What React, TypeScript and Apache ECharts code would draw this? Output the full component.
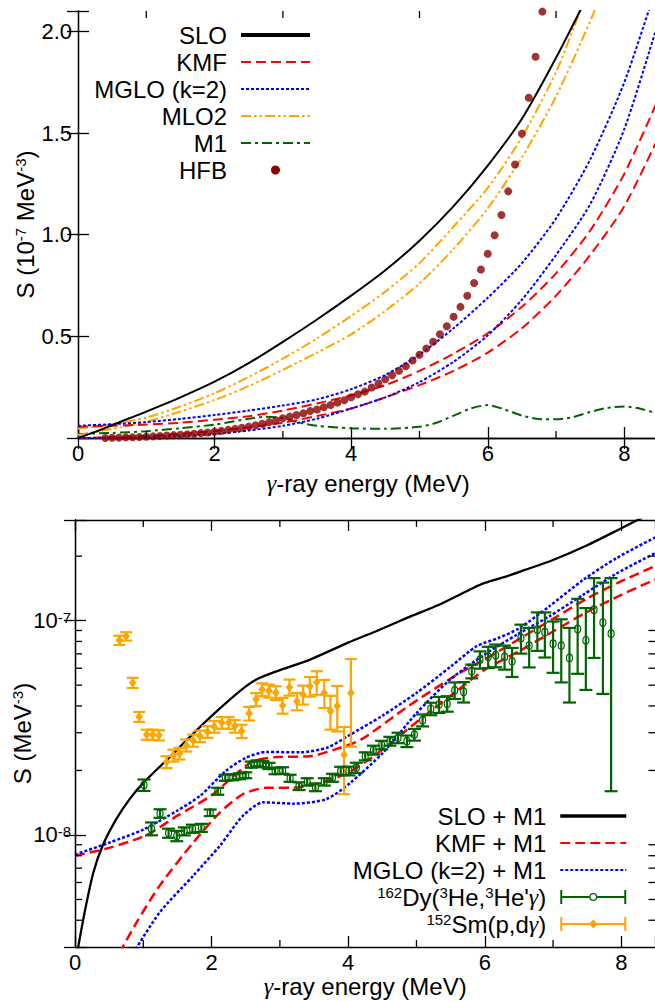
import React, { useEffect, useRef } from 'react';
import * as echarts from 'echarts';

// ---------- Top panel (S in 1e-7 MeV^-3) ----------
const slo = [[0,0],[0.25,0.03],[0.5,0.063],[0.75,0.097],[1,0.13],[1.5,0.2],[2,0.277],[2.5,0.368],[3,0.473],[3.5,0.583],[4,0.7],[4.5,0.825],[5,0.97],[5.5,1.14],[6,1.34],[6.5,1.57],[7,1.87],[7.5,2.2]];
const kmfA = [[0,0.055],[0.5,0.06],[1,0.066],[1.5,0.075],[2,0.09],[2.5,0.107],[3,0.135],[3.5,0.17],[4,0.21],[4.5,0.26],[5,0.33],[5.5,0.415],[6,0.515],[6.5,0.645],[7,0.81],[7.5,1.02],[8,1.3],[8.5,1.67]];
const kmfB = [[0,0.0],[0.5,0.004],[1,0.01],[1.5,0.02],[2,0.034],[2.5,0.052],[3,0.075],[3.5,0.108],[4,0.145],[4.5,0.2],[5,0.26],[5.5,0.33],[6,0.42],[6.5,0.54],[7,0.7],[7.5,0.9],[8,1.14],[8.5,1.48]];
const mgloA = [[0,0.06],[0.5,0.068],[1,0.078],[1.5,0.094],[2,0.113],[2.5,0.135],[3,0.16],[3.5,0.19],[4,0.24],[4.5,0.31],[5,0.41],[5.5,0.54],[6,0.69],[6.5,0.86],[7,1.08],[7.5,1.37],[8,1.75],[8.5,2.25]];
const mgloB = [[0,0.0],[0.5,0.001],[1,0.004],[1.5,0.01],[2,0.02],[2.5,0.037],[3,0.06],[3.5,0.095],[4,0.145],[4.5,0.2],[5,0.275],[5.5,0.375],[6,0.505],[6.5,0.68],[7,0.9],[7.5,1.15],[8,1.52],[8.5,2.05]];
const mlo2A = [[0,0.045],[0.5,0.068],[1,0.1],[1.5,0.155],[2,0.22],[2.5,0.3],[3,0.39],[3.5,0.49],[4,0.6],[4.5,0.72],[5,0.86],[5.5,1.04],[6,1.23],[6.5,1.48],[7,1.8],[7.35,2.1],[7.5,2.25]];
const mlo2B = [[0,0.015],[0.5,0.045],[1,0.08],[1.5,0.13],[2,0.187],[2.5,0.255],[3,0.335],[3.5,0.42],[4,0.51],[4.5,0.625],[5,0.76],[5.5,0.93],[6,1.13],[6.5,1.38],[7,1.68],[7.5,2.05],[7.7,2.22]];
const m1 = [[0,0.02],[0.5,0.025],[1,0.033],[1.5,0.048],[2,0.066],[2.5,0.095],[2.75,0.104],[3,0.098],[3.25,0.075],[3.5,0.06],[4,0.048],[4.5,0.045],[5,0.055],[5.25,0.075],[5.5,0.11],[5.75,0.145],[6,0.162],[6.25,0.14],[6.5,0.11],[6.75,0.093],[7,0.092],[7.25,0.103],[7.5,0.128],[7.75,0.148],[8,0.155],[8.25,0.143],[8.5,0.118]];
const hfbE = [0.4,0.5,0.6,0.7,0.8,0.9,1.0,1.1,1.2,1.3,1.4,1.5,1.6,1.7,1.8,1.9,2.0,2.1,2.2,2.3,2.4,2.5,2.6,2.7,2.8,2.9,3.0,3.1,3.2,3.3,3.4,3.5,3.6,3.7,3.8,3.9,4.0,4.1,4.2,4.3,4.4,4.5,4.6,4.7,4.8,4.9,5.0,5.1,5.2,5.3,5.4,5.5,5.6,5.7,5.8,5.9,6.0,6.1,6.2,6.3,6.4,6.5,6.6,6.7,6.8];
const hfbS = [0.0,0.001,0.002,0.003,0.004,0.005,0.006,0.008,0.01,0.012,0.014,0.016,0.018,0.021,0.024,0.027,0.031,0.035,0.04,0.045,0.05,0.056,0.063,0.07,0.078,0.087,0.097,0.105,0.113,0.122,0.133,0.14,0.151,0.162,0.174,0.186,0.2,0.215,0.228,0.248,0.268,0.289,0.309,0.33,0.353,0.381,0.409,0.44,0.473,0.51,0.55,0.596,0.645,0.7,0.762,0.829,0.906,0.997,1.097,1.213,1.345,1.497,1.673,1.875,2.097];

// ---------- Bottom panel (S in 1e-8 MeV^-3) ----------
const sloM1 = [[0.03,0.28],[0.15,0.45],[0.27,0.67],[0.41,0.9],[0.6,1.18],[0.8,1.47],[1.0,1.75],[1.4,2.33],[1.9,3.35],[2.4,4.65],[2.65,5.3],[2.95,5.8],[3.45,6.6],[4.0,7.9],[4.4,8.9],[4.86,10.3],[5.34,11.9],[5.83,14.2],[6.0,15.0],[6.32,16.1],[6.6,17.3],[7.0,19.2],[7.5,22.5],[8.0,27.0],[8.5,32.5]];
const kmfM1a = [[0,0.8],[0.5,0.87],[1.05,1.0],[1.5,1.23],[2.0,1.53],[2.32,1.88],[2.6,2.2],[2.95,2.31],[3.44,2.33],[3.8,2.5],[4.2,2.8],[4.86,3.95],[5.59,5.6],[6.0,6.6],[6.5,8.2],[7.0,10.2],[7.5,12.7],[8.0,15.3],[8.5,18.0]];
const kmfM1b = [[0.65,0.28],[0.9,0.39],[1.24,0.58],[1.73,0.92],[2.12,1.27],[2.46,1.55],[2.81,1.66],[3.2,1.66],[3.59,1.75],[4.0,1.95],[4.5,2.5],[4.86,3.1],[5.59,4.7],[6.0,5.9],[6.5,7.2],[7.0,8.9],[7.5,11.0],[8.0,13.2],[8.5,15.6]];
const mgloM1a = [[0,0.81],[0.5,0.92],[1.0,1.06],[1.5,1.3],[1.83,1.52],[2.2,1.98],[2.5,2.29],[2.8,2.44],[3.3,2.43],[3.7,2.56],[4.0,2.9],[4.5,3.6],[5.0,4.6],[5.5,6.1],[5.88,7.6],[6.2,8.3],[6.5,9.2],[6.95,11.7],[7.44,15.5],[7.93,19.6],[8.5,24.5]];
const mgloM1b = [[0.85,0.28],[1.24,0.435],[1.73,0.645],[2.12,0.89],[2.46,1.23],[2.76,1.42],[3.2,1.4],[3.68,1.47],[4.03,1.75],[4.51,2.42],[5.0,3.7],[5.49,5.3],[5.98,6.9],[6.47,8.6],[6.95,10.5],[7.44,13.2],[7.93,16.6],[8.5,20.7]];
// [E, S, err]
const dyPoints = [[1.01,1.71,0.105],[1.12,1.07,0.074],[1.245,1.26,0.058],[1.37,1.02,0.05],[1.49,0.99,0.055],[1.6,1.04,0.045],[1.72,1.07,0.047],[1.85,1.08,0.047],[1.98,1.27,0.045],[2.09,1.6,0.06],[2.2,1.85,0.06],[2.31,1.86,0.06],[2.41,1.88,0.06],[2.5,1.9,0.06],[2.58,2.13,0.07],[2.67,2.16,0.07],[2.75,2.14,0.07],[2.84,2.1,0.07],[2.93,1.99,0.07],[3.04,2.0,0.07],[3.15,1.84,0.07],[3.28,1.69,0.07],[3.4,1.77,0.07],[3.52,1.67,0.07],[3.65,1.77,0.07],[3.77,1.85,0.08],[3.89,1.99,0.09],[4.01,1.99,0.094],[4.12,2.06,0.113],[4.25,2.33,0.1],[4.37,2.49,0.12],[4.49,2.63,0.12],[4.61,2.74,0.13],[4.73,2.84,0.16],[4.86,2.74,0.17],[4.97,2.94,0.185],[5.09,3.43,0.22],[5.21,3.88,0.26],[5.33,4.06,0.35],[5.45,4.1,0.34],[5.56,4.73,0.42],[5.69,4.66,0.51],[5.81,5.81,0.43],[5.93,6.58,0.61],[6.05,6.78,0.77],[6.16,6.9,0.84],[6.29,6.78,0.87],[6.4,6.46,1.0],[6.53,8.3,1.28],[6.65,7.65,1.6],[6.77,9.08,1.85],[6.88,8.83,2.1],[7.0,7.81,2.1],[7.12,7.65,2.5],[7.24,6.7,2.55],[7.36,9.15,3.5],[7.48,8.1,3.35],[7.6,11.25,4.55],[7.73,9.8,5.25],[7.85,8.7,7.1]];
const smPoints = [[0.65,8.1,0.4],[0.75,8.45,0.38],[0.845,5.13,0.28],[0.94,3.56,0.19],[1.05,2.94,0.16],[1.14,2.94,0.16],[1.23,2.92,0.16],[1.34,2.19,0.14],[1.44,2.35,0.15],[1.53,2.4,0.15],[1.63,2.62,0.17],[1.73,2.76,0.18],[1.83,2.89,0.18],[1.94,3.03,0.19],[2.04,3.2,0.2],[2.15,3.34,0.21],[2.25,3.34,0.21],[2.34,3.22,0.22],[2.44,3.05,0.22],[2.55,3.69,0.27],[2.65,4.29,0.3],[2.74,4.77,0.33],[2.84,4.7,0.33],[2.94,4.6,0.34],[3.04,4.02,0.34],[3.14,4.89,0.42],[3.25,4.21,0.39],[3.34,4.52,0.46],[3.44,4.94,0.52],[3.54,5.16,0.65],[3.65,4.6,0.69],[3.74,3.78,0.68],[3.84,4.0,0.96],[3.94,2.37,0.82],[4.04,4.6,2.02]];

// ---------- tick helpers ----------
const xMinorTicks = [1, 3, 5, 7];
const logMinorTicks = [4e-9,5e-9,6e-9,7e-9,8e-9,9e-9,2e-8,3e-8,4e-8,5e-8,6e-8,7e-8,8e-8,9e-8,2e-7];

const DY = "162Dy(3He,3He'γ)";
const SM = '152Sm(p,dγ)';

const FONT = '"Liberation Sans", Arial, Helvetica, sans-serif';
const SERIF = '"Liberation Serif", "DejaVu Serif", serif';
const BLACK = '#000';
const RED = '#ff0000';
const BLUE = '#0000ff';
const ORANGE = '#ffa500';
const GREEN = '#006400';
const DARKRED = '#8b0000';

const e8 = (arr: number[][]) => arr.map(([x, y]) => [x, y * 1e-8]);

const supRich = {
  sup: { fontSize: 15, fontFamily: FONT, color: BLACK, verticalAlign: 'top', lineHeight: 13 },
  g: { fontSize: 24, fontFamily: SERIF, fontStyle: 'italic', color: BLACK },
};

const axisLine = { show: true, lineStyle: { color: BLACK, width: 1.3 } };
const majorTick = { show: true, inside: true, length: 11, lineStyle: { color: BLACK, width: 1.3 } };
const tickStyle = { stroke: BLACK, lineWidth: 1.3 };

function xMinorRender(params: any, api: any) {
  const cs = params.coordSys;
  const x = api.coord([api.value(0), api.value(1)])[0];
  return {
    type: 'group',
    children: [
      { type: 'line', shape: { x1: x, y1: cs.y + cs.height, x2: x, y2: cs.y + cs.height - 7 }, style: tickStyle },
      { type: 'line', shape: { x1: x, y1: cs.y, x2: x, y2: cs.y + 7 }, style: tickStyle },
    ],
  };
}
function yMinorRender(params: any, api: any) {
  const cs = params.coordSys;
  const y = api.coord([api.value(0), api.value(1)])[1];
  return {
    type: 'group',
    children: [
      { type: 'line', shape: { x1: cs.x, y1: y, x2: cs.x + 7, y2: y }, style: tickStyle },
      { type: 'line', shape: { x1: cs.x + cs.width, y1: y, x2: cs.x + cs.width - 7, y2: y }, style: tickStyle },
    ],
  };
}
function errRender(color: string, marker: string) {
  return (params: any, api: any) => {
    const x = api.value(0), y = api.value(1), e = api.value(2);
    const c = api.coord([x, y]);
    const t = api.coord([x, y + e]);
    const b = api.coord([x, y - e]);
    const w = marker === 'circle' ? 6.5 : 6;
    const ls = { stroke: color, lineWidth: 2.2 };
    const children: any[] = [
      { type: 'line', shape: { x1: c[0], y1: t[1], x2: c[0], y2: b[1] }, style: ls },
      { type: 'line', shape: { x1: c[0] - w, y1: t[1], x2: c[0] + w, y2: t[1] }, style: ls },
      { type: 'line', shape: { x1: c[0] - w, y1: b[1], x2: c[0] + w, y2: b[1] }, style: ls },
    ];
    if (marker === 'circle') {
      children.push({ type: 'ellipse', shape: { cx: c[0], cy: c[1], rx: 3, ry: 3.8 }, style: { fill: 'none', stroke: color, lineWidth: 1.2 } });
    } else {
      children.push({ type: 'polygon', shape: { points: [[c[0], c[1] - 4.6], [c[0] + 3.8, c[1]], [c[0], c[1] + 4.6], [c[0] - 3.8, c[1]]] }, style: { fill: color } });
    }
    return { type: 'group', children };
  };
}

const xName = '{g|γ}-ray energy (MeV)';
const nameStyle = { fontSize: 24, fontFamily: FONT, color: BLACK, rich: supRich };
const labelStyle = { fontSize: 22, fontFamily: FONT, color: BLACK };

function xBottom(gridIndex: number, nameGap: number) {
  return {
    type: 'value', gridIndex, min: 0, max: 8.5, interval: 2, position: 'bottom',
    axisLine, axisTick: majorTick, splitLine: { show: false },
    axisLabel: { ...labelStyle, margin: 4, formatter: (v: number) => (Math.abs(v % 2) < 1e-9 ? String(v) : '') },
    name: xName, nameLocation: 'middle', nameGap, nameTextStyle: nameStyle,
  };
}
function xTopAxis(gridIndex: number) {
  return {
    type: 'value', gridIndex, min: 0, max: 8.5, interval: 2, position: 'top',
    axisLine, axisTick: majorTick, splitLine: { show: false }, axisLabel: { show: false },
  };
}

const lineSeries = (name: string, data: number[][], color: string, type: any, width: number, xi: number) => ({
  name, type: 'line', xAxisIndex: xi, yAxisIndex: xi, data, symbol: 'none', showSymbol: false,
  smooth: 0.25,
  lineStyle: { color, width, type }, itemStyle: { color }, z: 2,
});

const DASH = [10, 5];
const DOT = [3, 2];
const DDOT = [10, 3, 2.5, 3, 2.5, 3];
const DASHDOT = [10, 4, 3, 4];

const errIcon = (mk: string) => {
  const base = 'M0 0h2v14h-2Z M64 0h2v14h-2Z ';
  if (mk === 'circle') {
    return 'path://' + base + 'M2 6h27v2h-27Z M37 6h27v2h-27Z M33 3 a4 4 0 1 1 0 8 a4 4 0 1 1 0 -8Z M33 4.3 a2.7 2.7 0 1 0 0 5.4 a2.7 2.7 0 1 0 0 -5.4Z';
  }
  return 'path://' + base + 'M2 6h62v2h-62Z M33 2.4 L37.4 7 L33 11.6 L28.6 7Z';
};

const legendText = {
  fontSize: 24, fontFamily: FONT, color: BLACK, lineHeight: 24, padding: [0, 9, 0, 0],
  rich: supRich,
};

const option: any = {
  animation: false,
  backgroundColor: '#fff',
  grid: [
    { left: 78, top: 11, width: 580.5, height: 427, outerBoundsMode: 'none', containLabel: false },
    { left: 75, top: 520, width: 580.5, height: 427, outerBoundsMode: 'none', containLabel: false },
  ],
  xAxis: [xBottom(0, 33), xTopAxis(0), xBottom(1, 27), xTopAxis(1)],
  yAxis: [
    {
      type: 'value', gridIndex: 0, min: 0, max: 2.1, interval: 0.5, position: 'left',
      axisLine, axisTick: majorTick, splitLine: { show: false },
      axisLabel: { ...labelStyle, margin: 6, formatter: (v: number) => (v > 0.01 && v < 2.05 ? v.toFixed(1) : '') },
      name: 'S (10{sup|-7} MeV{sup|-3})', nameLocation: 'middle', nameGap: 41, nameMoveOverlap: false,
      nameTextStyle: nameStyle,
    },
    {
      type: 'value', gridIndex: 0, min: 0, max: 2.1, interval: 0.5, position: 'right',
      axisLine, axisTick: majorTick, splitLine: { show: false }, axisLabel: { show: false },
    },
    {
      type: 'log', logBase: 10, gridIndex: 1, min: 3e-9, max: 2.95e-7, position: 'left',
      axisLine, axisTick: majorTick, splitLine: { show: false }, minorTick: { show: false },
      axisLabel: {
        ...labelStyle, margin: 4, rich: { sup: { fontSize: 15, fontFamily: FONT, color: BLACK, verticalAlign: 'top', lineHeight: 12 } },
        formatter: (v: number) => {
          const e = Math.log10(v); const r = Math.round(e);
          return Math.abs(e - r) < 1e-6 ? `10{sup|${r}}` : '';
        },
      },
      name: 'S (MeV{sup|-3})', nameLocation: 'middle', nameGap: 41, nameMoveOverlap: false,
      nameTextStyle: nameStyle,
    },
    {
      type: 'log', logBase: 10, gridIndex: 1, min: 3e-9, max: 2.95e-7, position: 'right',
      axisLine, axisTick: majorTick, splitLine: { show: false }, axisLabel: { show: false },
    },
  ],
  legend: [
    {
      orient: 'vertical', align: 'right', right: 343, top: 23, padding: 0, itemGap: 3,
      itemWidth: 69, itemHeight: 9, textStyle: legendText, selectedMode: false,
      itemStyle: { opacity: 0 },
      data: [
        { name: 'SLO', lineStyle: { width: 4 } },
        'KMF', 'MGLO (k=2)', 'MLO2', 'M1',
        { name: 'HFB', icon: 'circle', itemStyle: { color: DARKRED, opacity: 1 } },
      ],
    },
    {
      orient: 'vertical', align: 'right', right: 27, top: 804, padding: 0, itemGap: 3,
      itemWidth: 66, itemHeight: 14, textStyle: legendText, selectedMode: false,
      itemStyle: { opacity: 0 },
      formatter: (name: string) => {
        if (name === DY) return "{sup|162}Dy({sup|3}He,{sup|3}He'{g|γ})";
        if (name === SM) return '{sup|152}Sm(p,d{g|γ})';
        return name;
      },
      data: [
        { name: 'SLO + M1', lineStyle: { width: 3.5 } },
        'KMF + M1', 'MGLO (k=2) + M1',
        { name: DY, icon: errIcon('circle'), itemStyle: { color: GREEN, opacity: 1 } },
        { name: SM, icon: errIcon('diamond'), itemStyle: { color: ORANGE, opacity: 1 } },
      ],
    },
  ],
  series: [
    // top panel
    lineSeries('M1', m1, GREEN, DASHDOT, 2, 0),
    lineSeries('MLO2', mlo2A, ORANGE, DDOT, 2, 0),
    lineSeries('MLO2', mlo2B, ORANGE, DDOT, 2, 0),
    lineSeries('KMF', kmfA, RED, DASH, 2, 0),
    lineSeries('KMF', kmfB, RED, DASH, 2, 0),
    lineSeries('MGLO (k=2)', mgloA, BLUE, DOT, 2, 0),
    lineSeries('MGLO (k=2)', mgloB, BLUE, DOT, 2, 0),
    lineSeries('SLO', slo, BLACK, 'solid', 2, 0),
    {
      name: 'HFB', type: 'scatter', xAxisIndex: 0, yAxisIndex: 0, symbol: 'circle', symbolSize: 8,
      itemStyle: { color: DARKRED }, data: hfbE.map((e, i) => [e, hfbS[i]]), z: 4,
    },
    {
      type: 'custom', xAxisIndex: 0, yAxisIndex: 0, renderItem: xMinorRender, silent: true, clip: false,
      data: xMinorTicks.map((v) => [v, 1]), encode: { x: 0, y: 1 }, z: 10,
    },
    // bottom panel
    lineSeries('KMF + M1', e8(kmfM1a), RED, DASH, 2.5, 2),
    lineSeries('KMF + M1', e8(kmfM1b), RED, DASH, 2.5, 2),
    lineSeries('MGLO (k=2) + M1', e8(mgloM1a), BLUE, DOT, 2.5, 2),
    lineSeries('MGLO (k=2) + M1', e8(mgloM1b), BLUE, DOT, 2.5, 2),
    lineSeries('SLO + M1', e8(sloM1), BLACK, 'solid', 2.3, 2),
    {
      name: SM, type: 'custom', xAxisIndex: 2, yAxisIndex: 2, renderItem: errRender(ORANGE, 'diamond'),
      data: smPoints.map(([e, s, d]) => [e, s * 1e-8, d * 1e-8]), encode: { x: 0, y: 1 },
      itemStyle: { color: ORANGE }, z: 4,
    },
    {
      name: DY, type: 'custom', xAxisIndex: 2, yAxisIndex: 2, renderItem: errRender(GREEN, 'circle'),
      data: dyPoints.map(([e, s, d]) => [e, s * 1e-8, d * 1e-8]), encode: { x: 0, y: 1 },
      itemStyle: { color: GREEN }, z: 5,
    },
    {
      type: 'custom', xAxisIndex: 2, yAxisIndex: 2, renderItem: xMinorRender, silent: true, clip: false,
      data: xMinorTicks.map((v) => [v, 1e-8]), encode: { x: 0, y: 1 }, z: 10,
    },
    {
      type: 'custom', xAxisIndex: 2, yAxisIndex: 2, renderItem: yMinorRender, silent: true, clip: false,
      data: logMinorTicks.map((v) => [1, v]), encode: { x: 0, y: 1 }, z: 10,
    },
  ],
};

export default function App() {
  const ref = useRef<HTMLDivElement>(null);
  useEffect(() => {
    const chart = echarts.init(ref.current as HTMLDivElement, null, { renderer: 'svg' });
    chart.setOption(option);
    return () => chart.dispose();
  }, []);
  return (
    <div
      ref={ref}
      style={{ position: 'fixed', left: 0, top: 0, width: 655, height: 1002, background: '#fff' }}
    />
  );
}
